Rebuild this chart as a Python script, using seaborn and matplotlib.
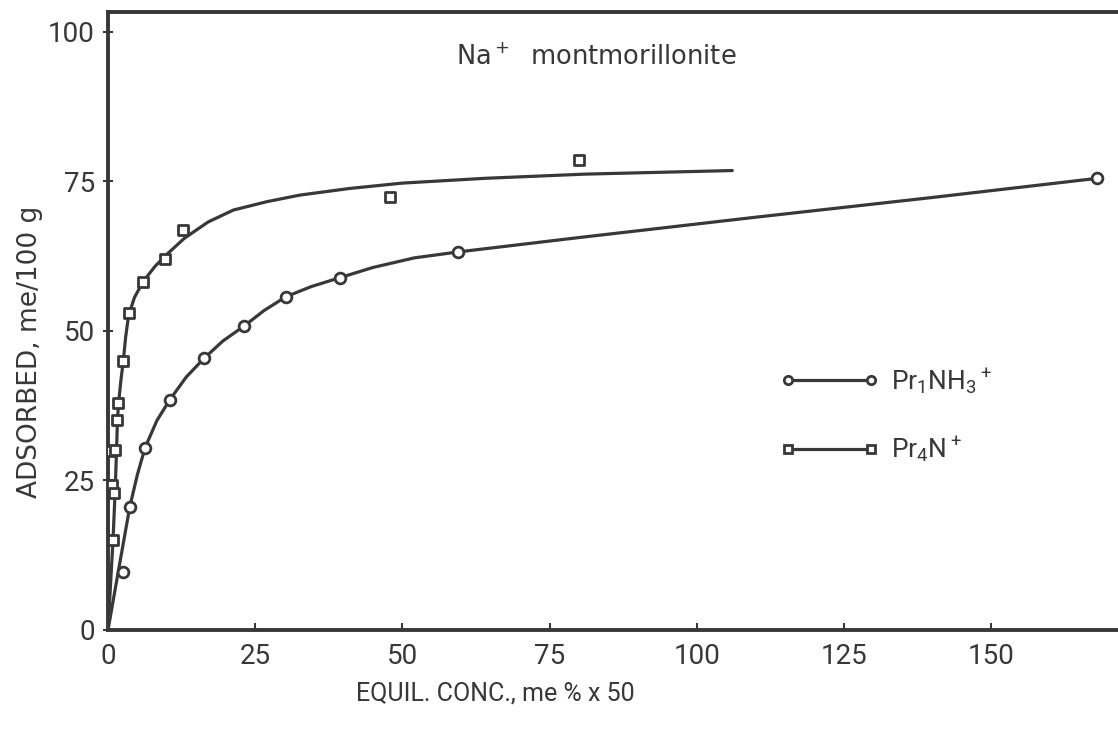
import numpy as np
import pandas as pd
import matplotlib
matplotlib.use("Agg")
import matplotlib.pyplot as plt
from matplotlib.lines import Line2D
import seaborn as sns

# ---- data ----
pr1_x = [2.6, 3.7, 6.3, 10.5, 16.3, 23.1, 30.2, 39.4, 59.5, 168.0]
pr1_y = [9.7, 20.6, 30.5, 38.5, 45.4, 50.8, 55.7, 58.9, 63.2, 75.5]

pr4_x = [0.3, 0.6, 0.9, 1.1, 1.2, 1.5, 1.75, 2.6, 3.5, 6.0, 9.7, 12.8, 47.9, 80.0]
pr4_y = [30.0, 24.2, 15.0, 22.9, 30.1, 35.1, 37.9, 45.0, 53.0, 58.1, 62.0, 66.9, 72.3, 78.5]

# fitted curves as traced in the picture
pr1_curve_x = [0, 1.5, 3.7, 5.0, 6.3, 8.3, 10.5, 13.3, 16.3, 19.5, 23.1, 26.5, 30.2,
               34.5, 39.4, 45, 52, 59.5, 80, 110, 140, 168]
pr1_curve_y = [0, 8.4, 20.6, 26.0, 30.5, 35.0, 38.5, 42.3, 45.4, 48.3, 50.8, 53.4, 55.7,
               57.4, 58.9, 60.6, 62.2, 63.2, 65.6, 69.0, 72.3, 75.5]

pr4_curve_x = [0, 0.85, 1.2, 1.45, 1.6, 1.8, 2.2, 2.6, 3.0, 3.5, 4.5, 6.0, 8.0, 10, 13,
               17, 21.3, 27, 32.6, 41, 50, 64, 81, 106]
pr4_curve_y = [0, 15.0, 22.9, 30.0, 35.0, 38.0, 41.8, 45.0, 49.0, 52.6, 55.6, 58.3, 60.8,
               62.8, 65.5, 68.2, 70.2, 71.6, 72.7, 73.8, 74.7, 75.5, 76.2, 76.8]

x_ticks = [0, 25, 50, 75, 100, 125, 150]
y_ticks = [0, 25, 50, 75, 100]

title_text = "Na$^+$  montmorillonite"
labels = ["Pr$_1$NH$_3$$^+$", "Pr$_4$N$^+$"]

# ---- style ----
sns.set_style("ticks")
plt.rcParams["font.family"] = ["DejaVu Sans"]
plt.rcParams["mathtext.default"] = "regular"

ink = "#383838"
narrow = ["Roboto", "DejaVu Sans"]

fig = plt.figure(figsize=(11.18, 7.29), dpi=100)
ax = fig.add_axes([108 / 1118, 1 - 630 / 729, 1 - 108 / 1118, (630 - 12) / 729])

curves = pd.concat([
    pd.DataFrame({"x": pr1_curve_x, "y": pr1_curve_y, "s": labels[0]}),
    pd.DataFrame({"x": pr4_curve_x, "y": pr4_curve_y, "s": labels[1]}),
])
pts1 = pd.DataFrame({"x": pr1_x, "y": pr1_y})
pts4 = pd.DataFrame({"x": pr4_x, "y": pr4_y})

sns.lineplot(data=curves, x="x", y="y", units="s", estimator=None, sort=False,
             color=ink, lw=2.3, ax=ax, legend=False)
sns.scatterplot(data=pts1, x="x", y="y", marker="o", s=60, facecolor="white",
                edgecolor=ink, linewidth=2.0, ax=ax, zorder=5, legend=False)
sns.scatterplot(data=pts4, x="x", y="y", marker="s", s=50, facecolor="white",
                edgecolor=ink, linewidth=2.0, ax=ax, zorder=5, legend=False)

ax.set_xlim(0, 171.5)
ax.set_ylim(0, 103.3)
ax.set_xticks(x_ticks)
ax.set_yticks(y_ticks)
ax.set_xticklabels([str(v) for v in x_ticks], family=narrow, fontsize=20, color=ink)
ax.set_yticklabels([str(v) for v in y_ticks], family=narrow, fontsize=20, color=ink)
ax.tick_params(axis="x", direction="in", length=5, width=1.5, color=ink, pad=9)
ax.tick_params(axis="y", direction="inout", length=7, width=1.5, color=ink, pad=6)

for side in ["left", "bottom", "top"]:
    ax.spines[side].set_linewidth(2.8)
    ax.spines[side].set_color(ink)
ax.spines["right"].set_visible(False)

ax.set_xlabel("EQUIL. CONC., me % x 50", family=narrow, fontsize=18, color=ink)
ax.xaxis.set_label_coords((495 - 108) / 1010, -0.084)
ax.set_ylabel("ADSORBED, me/100 g", fontsize=19, color=ink)
ax.yaxis.set_label_coords(-0.064, 0.45)

ax.text(82.9, 95.6, title_text, fontsize=18.5, color=ink, ha="center", va="center",
        fontweight="medium")

handles = [
    Line2D([], [], color=ink, lw=2.3, marker="o", markersize=6, mfc="white",
           mec=ink, mew=2.0),
    Line2D([], [], color=ink, lw=2.3, marker="s", markersize=5.5, mfc="white",
           mec=ink, mew=2.0),
]
leg = ax.legend(handles, labels, numpoints=2, handlelength=3.75, frameon=False,
                loc="upper left", bbox_to_anchor=(0.642, 0.465),
                labelspacing=1.45, handletextpad=0.45,
                prop={"family": narrow, "size": 19})
for t in leg.get_texts():
    t.set_color(ink)

fig.savefig("out.png", dpi=100, facecolor="white")
